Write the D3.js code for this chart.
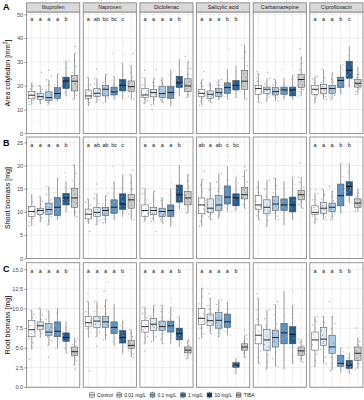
<!DOCTYPE html>
<html><head><meta charset="utf-8">
<script src="https://cdn.jsdelivr.net/npm/d3@7"></script>
<style>body{margin:0;background:#fff}svg{display:block;font-family:"Liberation Sans",Arial,sans-serif}</style>
</head><body><svg id="c" width="364" height="400"></svg>
<script>
const compounds = ["Ibuprofen","Naproxen","Diclofenac","Salicylic acid","Carbamazepine","Ciprofloxacin"];
const treatments = ["Control","0.01 mg/L","0.1 mg/L","1 mg/L","10 mg/L","TIBA"];
const colors = ["#FFFFFF","#D8E7F5","#9DC4E4","#4A87BD","#0B4A87","#C6C6C6"];

const areaTicks = [0,10,20,30,40,50];
const shootTicks = [0,5,10,15,20,25];
const rootTicks = [0,2.5,5,7.5,10,12.5,15];

// [lower whisker, q1, median, q3, upper whisker]
const areaStats = [
 [[12,14.5,16,17.5,21],[12.5,14.3,15.4,16.7,20],[12.2,13.9,15,17.4,22.5],[13.6,14.7,16.7,19.2,25],[15.7,18.8,22,23.6,30.5],[14.3,17.8,21.9,24.3,33.5]],
 [[11.8,14.7,15.7,18.2,23.5],[12.9,15.4,16.8,18.8,23],[12.9,15.7,18.5,20.1,24.7],[14.3,16.1,17.4,19.4,24],[14.3,17.8,20.1,22.6,29.5],[14.3,17.6,19.6,22,28.5]],
 [[12.5,15,16.1,18.8,23.5],[12,15.3,17.1,18.5,23],[12.9,15,16.7,19.6,23.3],[11.5,14.7,17.1,19.6,26.8],[15.7,19.2,21.2,24,31],[15,17.5,19.9,22.9,30]],
 [[11.8,15.4,16.8,18.5,22.5],[12.9,14.6,16.4,17.8,21.2],[14.3,15.4,17.1,18.8,22.6],[14.3,16.7,19.2,21.2,26.8],[15,18.2,20.1,22.2,28.2],[14.3,18.5,21.9,26.4,37.2]],
 [[12.9,16.4,18.8,20.1,25],[13.6,16.8,18.5,19.4,23],[13.6,16.1,17.5,19.2,22.6],[14.3,16.4,18.2,19.4,23],[14.3,15.7,18.2,19.4,24.5],[15.7,19.2,22.6,24.7,32]],
 [[12.9,16.4,18.5,20.1,24],[14.3,16.7,18.8,20.6,26.8],[14.3,16.7,18.8,20.1,25.4],[16.4,19.2,22.2,23.6,28.9],[19.2,23.1,26.5,30.3,36.5],[16.4,19.4,21,22.6,27.5]]
];
const areaPoints = [
 [[13.2,15.1,16.4,17,18.6,19.8,14],[25.7,13.6,14.9,16,17.5,18.4,15.2],[26.5,24,13.1,14.6,16.2,18.3,20.4],[27,15.3,16,17.8,20.5,22.8,14.2],[17.2,19.5,21,22.6,24.8,27.3,29.6,20.3],[36.5,16,18.9,20.7,23,25.6,28,30.8,19.5]],
 [[13,14.2,15.3,16.8,17.7,20.5,15.9],[27,14.1,16,17.4,18.2,20.8,15.7],[14.6,16.5,17.8,19.2,21.5,23,18.9],[33.5,28.5,15.2,16.8,18.1,20.6,22.3],[38.5,33,16,18.6,19.6,21.4,24.8,27],[33.5,15.6,18.3,19,20.8,23.4,25.6]],
 [[26.5,13.7,15.6,16.8,17.9,20.4,14.4],[26.8,10,14.1,16.3,17.6,19.8,21.4],[14,15.8,17.4,18.6,20.9,22.1,16.2],[13,15.5,16.4,18.3,21.6,24.5,25.3],[36.5,17.4,20,22.3,23.1,26.4,28.8,20.7],[32.4,16.3,18.8,20.6,21.8,24.7,27.2]],
 [[26,13.3,14.8,16.2,17.5,19.8,21],[13.8,15.3,16,17.2,18.9,20.3,15.6],[14.9,16.3,17.8,18.1,20.4,21.5,16.7],[35.4,15.5,17.4,18.6,20.4,22.7,24.9],[16.4,19,19.8,21.3,23.5,25.8,17.6],[16.5,19.8,21,23.4,25.1,28.5,31.6,34.3]],
 [[26,14.8,17.2,18.1,19.4,21.8,23.2],[25.7,15.2,17.6,18.1,19,20.8,16.2],[14.9,16.8,17.2,18.4,20.3,21.1,15.5],[26.8,15.5,17,17.8,19,20.7,21.8],[28.9,15,16.8,17.5,18.9,21.2,22.6],[35.5,17.5,20.4,21.9,23.6,26.8,29.4,18.4]],
 [[14.5,15.8,17.4,19.2,21.3,22.8,17.9],[15.5,17.3,18.2,19.6,21.4,23.5,16.1],[15.2,17.5,18.1,19.4,21.6,22.8,16],[17.4,20.5,21.4,22.9,24.8,26.5,18.3],[20.8,24.4,25.6,27.8,29.1,32.6,34.3,22.4],[17.6,20.2,20.7,21.8,23.4,24.6,18.6]]
];
const shootStats = [
 [[7,9,10.1,11.2,13.7],[8,9.4,10.3,10.8,13.3],[7.2,9.4,10.5,11.9,15.5],[8.3,9.2,11,13.1,17.3],[10.1,11.5,13,14,16.5],[9,11,13,15.1,20.1]],
 [[7.6,8.5,9.5,10.6,12.8],[7.2,9,9.9,11,14],[7.6,9.2,10.3,11,13.5],[8.3,9.7,11,12.6,16.5],[9,10.5,11.7,13.9,18],[8.3,10.8,12.6,13.7,18]],
 [[8,9,10.3,11.5,15.1],[8,9.4,10.3,11,14.4],[7.6,9,10.1,10.8,13],[6.9,9,10.3,11.5,15],[10.5,12.1,13.7,15.8,20],[9.7,11.5,13,14.4,18]],
 [[6.9,9.6,11.5,13,17],[8.3,9.9,10.8,12.8,16.2],[8.7,10.3,11.5,13.5,18.3],[10.1,11.7,13.2,15.6,19.8],[10.3,11.3,13,13.9,17.5],[10.8,12.8,13.7,15.3,19]],
 [[8.3,10.5,11.5,13.5,16.5],[6.9,9.7,11,12.6,16.9],[8.3,10.3,11.7,13.3,17.3],[7.2,10.3,11.5,12.8,16.5],[8.3,10,11.5,13.2,17.6],[10.8,12.6,13.7,14.6,17.5]],
 [[7.6,9.4,9.9,11.3,14],[8.3,9.7,10.8,12,14.8],[8.3,10.1,11,11.9,14.5],[9.7,11.3,13.5,16,20.5],[11.9,13.5,15.5,16.5,20.5],[10.1,11,11.9,12.8,14.8]]
];
const shootPoints = [
 [[7.8,8.6,9.5,10.4,10.9,12.2,9.8],[8.7,9.2,9.9,10.5,11.6,12.3,10.1],[8.1,8.9,10.1,11,12.6,13.8,9.7],[8.8,9.9,10.4,12,14.2,16,11.6],[18.5,10.8,12.1,12.7,13.5,15.2,11.9],[9.9,11.8,12.5,13.8,14.6,16.8,18.3,12.2]],
 [[5.8,8.1,9,9.8,10.2,11.5,12.2],[16,8.2,9.4,10.5,11.8,12.9,9.7],[14,8.4,9.8,10.6,11.9,12.6,9.5],[19.8,9.1,10.3,11.5,12.1,13.9,15.2],[20.3,9.8,11.2,12.3,13.2,15.4,16.8],[19,9.5,11.5,12.2,13,14.9,16.3]],
 [[8.5,9.6,10.1,10.8,12.6,13.9,9.2],[5.8,8.7,9.8,10.6,11.8,12.9,9.6],[8.3,9.4,9.8,10.5,11.6,12.4,8.9],[16.2,7.8,9.5,10.8,12.2,13.6,8.6],[21,11.3,12.8,14.4,15.1,16.9,18.2],[10.6,12.2,12.7,13.6,15.4,16.7,11.8]],
 [[18.7,8,9.1,10.6,12.2,14.3,15.8],[8.9,9.5,10.4,11.6,13.5,14.8,10.1],[9.4,10.8,11.2,12.6,14.5,16.4,9.9],[22,11,12.6,13.9,14.8,16.9,18.1],[19,10.8,12.1,12.7,13.5,15.3,16.2],[19.8,11.6,13.1,14.2,14.8,16.4,17.6]],
 [[9.2,10.1,11.1,12.3,14.2,15.3,10.8],[8.1,9.2,10.4,11.6,13.4,14.9,10.2],[9.1,10.8,11.3,12.4,14.1,15.6,9.8],[8.6,9.9,11,12.1,13.6,14.8,10.7],[9,10.6,11.1,12.5,14.4,15.9,9.6],[20.5,11.6,13.2,14.1,15.3,16.4,12.1]],
 [[14.8,8.4,9.1,10.5,10.9,12.6,9.7],[8.9,10.2,10.5,11.4,12.8,13.7,9.4],[15.5,9.1,10.6,11.3,12.4,13.2,9.8],[10.4,12.2,13,14.4,15.3,17.6,18.9],[12.6,14.2,15.1,15.9,17.4,18.7,14.6],[10.6,11.4,11.7,12.3,13.3,14.1,11.1]]
];
const rootStats = [
 [[4.9,6.4,7.3,8.5,9.8],[6.4,7.3,7.8,8.3,10],[5.3,6.6,7,8.1,9.8],[4.9,6.4,7.1,8.3,10],[4.3,5.8,6.3,6.9,8.3],[2.8,4.05,4.5,5.1,6.2]],
 [[6.4,7.7,8.2,9,10.9],[6.4,7.6,8.4,9,10.9],[6,7.6,8.3,9,11.1],[5.3,6.8,7.6,8.3,10.5],[4.3,5.6,6.3,7.2,8.5],[3.8,4.9,5.3,5.9,7.3]],
 [[5.5,7,7.7,8.5,10.2],[5.8,7.2,8,8.7,10.4],[5.5,7.2,7.7,8.4,10.4],[5.5,7,7.8,8.4,10.2],[5.1,6,6.8,7.5,9],[3.6,4.35,4.7,5.1,6]],
 [[6.2,8,8.75,10,12.6],[6.8,7.8,8.45,9.3,11.3],[6.4,7.5,8.5,9.5,11.1],[6.6,7.6,8.3,9.3,10.8],[1.7,2.5,2.8,3.1,3.6],[3.8,4.7,5.1,5.5,6.6]],
 [[3,5.5,6.6,7.9,11.3],[2.3,4.7,6,7.3,9.8],[2.6,5.1,6.3,7.25,10.5],[2.3,5.5,6.9,8.1,12.2],[3,5.5,6.7,7.7,10.5],[3.2,4.05,4.6,5.1,6.1]],
 [[2.6,4.7,6,7,9],[3,5.3,6.1,7.6,9],[2.1,4.3,5.1,6.6,9],[1.9,2.65,3,4.05,5],[1.7,2.35,2.8,3.4,4.3],[2.3,3.4,4.3,5.1,6.2]]
];
const rootPoints = [
 [[3.5,5.6,6.8,7.1,7.8,8.9,9.3,6.1],[6.8,7.1,7.5,8,8.6,9.2,7.7],[3.8,5.9,6.4,7.3,7.6,8.6,9.1],[5.6,6.1,6.8,7.4,7.9,8.8,9.4],[4.9,5.4,6,6.6,7.2,7.7,5.9],[2.3,3.4,3.9,4.3,4.7,5.4,5.8]],
 [[2.0,11.9,6.9,7.4,8,8.5,9.6],[5.2,7,8,8.3,8.8,9.6,10.2],[13.4,12.2,6.6,7.9,8.6,9.4,10.3],[5.8,6.3,7.2,7.9,8.7,9.3,7.4],[4.8,5.2,5.9,6.6,6.9,7.8,6.1],[4.2,4.6,5.1,5.5,5.7,6.4,6.9]],
 [[4.6,6.4,7.3,8,8.8,9.4,7.5],[6.4,6.9,7.6,8.3,9,9.8,7.8],[6.1,6.8,7.5,8,8.9,9.6,7.3],[11.2,6.2,7.4,7.9,8.7,9.5,6.6],[5.6,6.3,6.6,7.1,7.8,8.4,6.2],[4,4.5,4.8,4.9,5.3,5.7,4.2]],
 [[6.8,7.5,8.4,9.2,10.6,11.5,8.9],[11.9,7.2,8.1,8.6,9.1,9.9,10.4],[6.9,7.8,8.2,8.9,9.8,10.5,7.3],[11.1,7.1,7.9,8.6,9,9.9,8.1],[2.1,2.6,2.7,2.9,3,3.3,3.8],[7.3,4.3,4.9,5.2,5.7,6.1,5]],
 [[11.9,3.8,4.6,6.1,7.1,8.6,9.8],[3.2,4.1,5.4,6.5,7.8,8.7,5.1],[10.9,3.6,4.4,5.8,6.8,8.1,9.2],[3.4,4.6,6.2,7.5,9.1,10.6,6.4],[12.2,4.1,5,6.2,7.1,8.4,9.3],[3.6,4.3,4.4,4.8,5.3,5.7,4.1]],
 [[3.4,4.2,5.4,6.3,6.7,7.9,8.4],[3.8,4.8,5.8,6.6,7.2,8.2,5.6],[10.9,3,3.8,4.8,5.6,7.4,8.1],[2.3,2.8,3.2,3.5,3.8,4.5,2.9],[5.1,2.1,2.6,2.9,3.1,3.7,2.4],[7.5,2.9,3.7,4,4.6,5.4,5.8]]
];
const areaLetters = [["a","a","a","a","b"],["a","ab","bc","bc","c"],["a","a","a","a","b"],["a","a","a","b","b"],[],["a","a","a","b","c"]];
const shootLetters = [["a","a","a","a","b"],["a","ab","ab","bc","c"],["a","a","a","a","b"],["ab","a","ab","c","bc"],[],["a","a","a","b","b"]];
const rootLetters = [["a","a","a","a","b"],["a","a","a","a","b"],["a","a","a","a","b"],["a","a","a","a","b"],[],["a","a","a","b","b"]];

const svg = d3.select("#c");
const x0 = 26.6, xEnd = 363, gap = 3.5;
const pw = (xEnd - x0 - 5*gap)/6;
const rows = [
 {tag:"A", stats:areaStats, pts:areaPoints, letters:areaLetters, ticks:areaTicks, dom:[0,50], rng:[133.3,14.3], top:12, bot:133.6, letterV:48, fmt:d3.format("d"), tagY:10, strip:true},
 {tag:"B", stats:shootStats, pts:shootPoints, letters:shootLetters, ticks:shootTicks, dom:[0,25], rng:[258.3,142.3], top:137, bot:258.6, letterV:24.4, fmt:d3.format("d"), tagY:146},
 {tag:"C", stats:rootStats, pts:rootPoints, letters:rootLetters, ticks:rootTicks, dom:[0,15], rng:[387,269.3], top:262.7, bot:387.3, letterV:14.8, fmt:d3.format(".1f"), tagY:272}
];
const jit = [-0.26,0.14,-0.06,0.3,-0.17,0.07,0.23,-0.31,0.01,-0.12];

rows.forEach((r,ri)=>{
  const y = d3.scaleLinear().domain(r.dom).range(r.rng);
  const minors = r.ticks.slice(1).map((t,i)=>(t+r.ticks[i])/2);
  compounds.forEach((comp,ci)=>{
    const px = x0 + ci*(pw+gap);
    const x = d3.scalePoint().domain(treatments).range([px,px+pw]).padding(0.6);
    const step = x.step();
    const g = svg.append("g");
    g.append("rect").attr("x",px).attr("y",r.top).attr("width",pw).attr("height",r.bot-r.top).attr("fill","#fff");
    g.selectAll(".mn").data(minors).join("line").attr("x1",px).attr("x2",px+pw)
      .attr("y1",d=>y(d)).attr("y2",d=>y(d)).attr("stroke","#F2F2F2").attr("stroke-width",0.4);
    g.selectAll(".mj").data(r.ticks).join("line").attr("x1",px).attr("x2",px+pw)
      .attr("y1",d=>y(d)).attr("y2",d=>y(d)).attr("stroke","#E3E3E3").attr("stroke-width",0.6);
    g.selectAll(".vg").data(treatments).join("line").attr("x1",d=>x(d)).attr("x2",d=>x(d))
      .attr("y1",r.top).attr("y2",r.bot).attr("stroke","#E3E3E3").attr("stroke-width",0.6);
    const bw = step*0.75;
    treatments.forEach((t,ti)=>{
      const s = r.stats[ci][ti];
      const cx = x(t);
      g.append("line").attr("x1",cx).attr("x2",cx).attr("y1",y(s[0])).attr("y2",y(s[1])).attr("stroke","#444").attr("stroke-width",0.5);
      g.append("line").attr("x1",cx).attr("x2",cx).attr("y1",y(s[3])).attr("y2",y(s[4])).attr("stroke","#444").attr("stroke-width",0.5);
      g.append("rect").attr("x",cx-bw/2).attr("y",y(s[3])).attr("width",bw).attr("height",y(s[1])-y(s[3]))
        .attr("fill",colors[ti]).attr("fill-opacity",0.9).attr("stroke","#444").attr("stroke-width",0.5);
      g.append("line").attr("x1",cx-bw/2).attr("x2",cx+bw/2).attr("y1",y(s[2])).attr("y2",y(s[2])).attr("stroke","#111").attr("stroke-width",0.9);
      const pts = r.pts[ci][ti].concat([s[0],s[4]]);
      g.selectAll(null).data(pts).join("circle")
        .attr("cx",(d,i)=>cx + jit[(i+ti+ci)%jit.length]*step)
        .attr("cy",d=>y(d)).attr("r",0.7)
        .attr("fill",ti>=3&&ti<5?"#bbb":"#777").attr("fill-opacity",0.6);
    });
    g.append("rect").attr("x",px).attr("y",r.top).attr("width",pw).attr("height",r.bot-r.top)
      .attr("fill","none").attr("stroke","#8A8A8A").attr("stroke-width",0.9);
    g.selectAll(".lt").data(r.letters[ci]).join("text")
      .attr("x",(d,i)=>x(treatments[i])).attr("y",y(r.letterV)).attr("dy","0.35em")
      .attr("text-anchor","middle").attr("font-size",5.6).attr("fill","#1a1a1a").text(d=>d);
    if(r.strip){
      svg.append("rect").attr("x",px).attr("y",2.8).attr("width",pw).attr("height",9.2)
        .attr("fill","#D9D9D9").attr("stroke","#8A8A8A").attr("stroke-width",0.9);
      svg.append("text").attr("x",px+pw/2).attr("y",7.4).attr("dy","0.35em").attr("text-anchor","middle")
        .attr("font-size",5.4).attr("fill","#1a1a1a").text(comp);
    }
  });
  const ax = svg.append("g").attr("transform",`translate(${x0},0)`)
    .call(d3.axisLeft(y).tickValues(r.ticks).tickFormat(r.fmt).tickSize(2.2).tickPadding(1.2));
  ax.select(".domain").remove();
  ax.selectAll("line").attr("stroke","#333").attr("stroke-width",0.5);
  ax.selectAll("text").attr("font-size",5.6).attr("fill","#4D4D4D").attr("font-family","Liberation Sans, Arial, sans-serif");
  svg.append("text").attr("x",3).attr("y",r.tagY).attr("font-size",9).attr("font-weight","bold").attr("fill","#000").text(r.tag);
});

const t1 = svg.append("text").attr("transform","translate(9.5,73) rotate(-90)").attr("text-anchor","middle").attr("font-size",7).attr("fill","#000");
t1.append("tspan").text("Area cotyledon [mm");
t1.append("tspan").attr("font-size",5).attr("dy",-2.5).text("2");
t1.append("tspan").attr("dy",2.5).text("]");
svg.append("text").attr("transform","translate(9.5,198) rotate(-90)").attr("text-anchor","middle").attr("font-size",7).attr("fill","#000").text("Shoot biomass [mg]");
svg.append("text").attr("transform","translate(9.5,325) rotate(-90)").attr("text-anchor","middle").attr("font-size",7).attr("fill","#000").text("Root biomass [mg]");

// legend
const lg = svg.append("g");
let lx = 89; const ly = 395;
treatments.forEach((t,i)=>{
  const k = lg.append("g").attr("transform",`translate(${lx},${ly})`);
  k.append("line").attr("x1",3).attr("x2",3).attr("y1",-3.4).attr("y2",3.4).attr("stroke","#444").attr("stroke-width",0.5);
  k.append("rect").attr("x",0.6).attr("y",-2.1).attr("width",4.8).attr("height",4.2).attr("fill",colors[i]).attr("stroke","#444").attr("stroke-width",0.5);
  k.append("line").attr("x1",0.6).attr("x2",5.4).attr("y1",0).attr("y2",0).attr("stroke","#111").attr("stroke-width",0.7);
  const tx = k.append("text").attr("x",8).attr("y",0).attr("dy","0.35em").attr("font-size",4.9).attr("fill","#1a1a1a").text(t);
  lx += 8 + tx.node().getComputedTextLength() + 3.5;
});
</script></body></html>
